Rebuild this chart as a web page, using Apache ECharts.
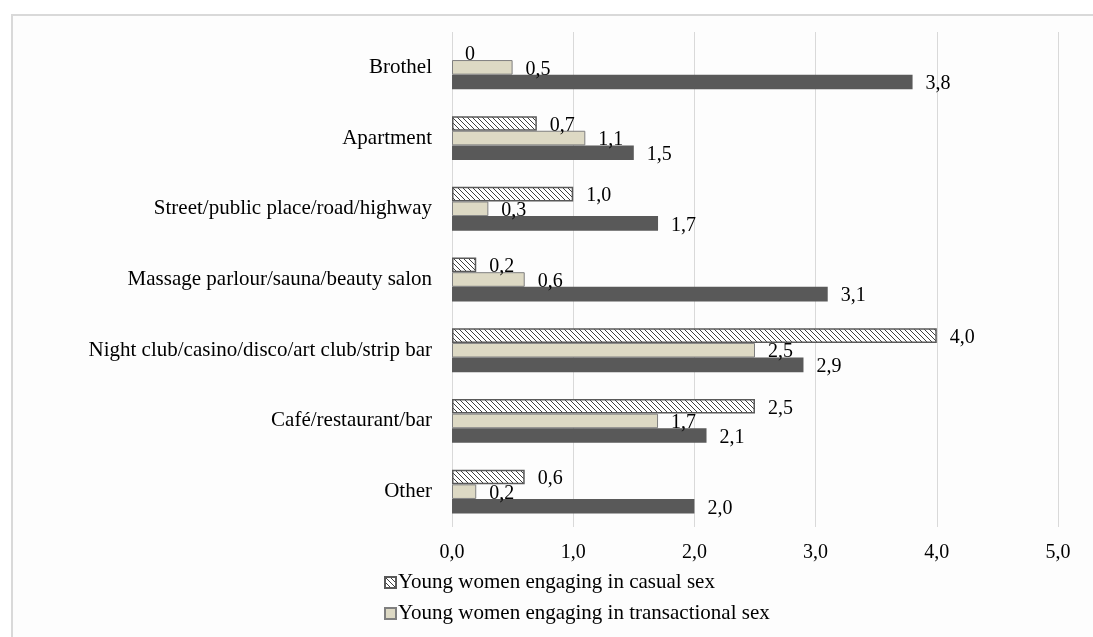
<!DOCTYPE html>
<html>
<head>
<meta charset="utf-8">
<script src="https://cdn.jsdelivr.net/npm/echarts@6/dist/echarts.min.js"></script>
<style>
  html, body { margin: 0; padding: 0; background: #ffffff; }
  #main { width: 1093px; height: 637px; }
</style>
</head>
<body>
<div id="main"></div>
<script>
// places, top to bottom
var places = ['Brothel', 'Apartment', 'Street/public place/road/highway',
  'Massage parlour/sauna/beauty salon', 'Night club/casino/disco/art club/strip bar',
  'Café/restaurant/bar', 'Other'];
var casualSex = [0, 0.7, 1.0, 0.2, 4.0, 2.5, 0.6];
var transactionalSex = [0.5, 1.1, 0.3, 0.6, 2.5, 1.7, 0.2];
var thirdGroup = [3.8, 1.5, 1.7, 3.1, 2.9, 2.1, 2.0];
var xTicks = [0, 1, 2, 3, 4, 5];

var font = "'Liberation Serif', 'Times New Roman', serif";

function comma(v) {
  if (v === 0) return '0';
  return v.toFixed(1).replace('.', ',');
}

// hatch pattern for the casual sex bars
function makeHatch() {
  var c = document.createElement('canvas');
  c.width = 5; c.height = 5;
  var ctx = c.getContext('2d');
  ctx.fillStyle = '#ffffff';
  ctx.fillRect(0, 0, 5, 5);
  ctx.strokeStyle = '#404040';
  ctx.lineWidth = 1;
  ctx.beginPath();
  ctx.moveTo(-1, -1); ctx.lineTo(6, 6);
  ctx.moveTo(-1, 4); ctx.lineTo(1, 6);
  ctx.moveTo(4, -1); ctx.lineTo(6, 1);
  ctx.stroke();
  return c;
}

// zero-length bars get no outline
function items(arr) {
  return arr.map(function (v) {
    return v === 0 ? { value: v, itemStyle: { borderWidth: 0 } } : v;
  });
}

var chart = echarts.init(document.getElementById('main'));

var lbl = {
  show: true,
  position: 'right',
  distance: 13,
  offset: [0, 2],
  color: '#000',
  fontFamily: font,
  fontSize: 20,
  formatter: function (p) { return comma(p.value); }
};

chart.setOption({
  backgroundColor: '#ffffff',
  animation: false,
  graphic: [{
    type: 'rect',
    shape: { x: 12, y: 15, width: 1200, height: 700 },
    style: { fill: '#fdfdfd', stroke: '#d9d9d9', lineWidth: 2 },
    z: -10
  }],
  grid: { left: 452, right: 35, top: 32, bottom: 110, containLabel: false },
  legend: {
    orient: 'vertical',
    left: 379,
    top: 567,
    icon: 'rect',
    itemWidth: 11,
    itemHeight: 11,
    itemGap: 10,
    data: ['Young women engaging in casual sex', 'Young women engaging in transactional sex'],
    textStyle: { fontFamily: font, fontSize: 21, color: '#000', padding: [0, 0, 0, -3] }
  },
  xAxis: {
    type: 'value',
    min: 0,
    max: 5,
    interval: 1,
    axisLine: { show: false },
    axisTick: { show: false },
    splitLine: { lineStyle: { color: '#d9d9d9', width: 1 } },
    axisLabel: {
      margin: 16,
      fontFamily: font,
      fontSize: 20,
      color: '#000',
      formatter: function (v) { return v.toFixed(1).replace('.', ','); }
    }
  },
  yAxis: {
    type: 'category',
    data: places,
    inverse: true,
    axisLine: { show: false },
    axisTick: { show: false },
    axisLabel: { margin: 20, fontFamily: font, fontSize: 21, color: '#000' }
  },
  series: [{
    name: 'Young women engaging in casual sex',
    type: 'bar',
    data: items(casualSex),
    barGap: 0,
    barCategoryGap: '38%',
    itemStyle: { color: { image: makeHatch(), repeat: 'repeat' }, borderColor: '#595959', borderWidth: 1.5 },
    label: lbl
  }, {
    name: 'Young women engaging in transactional sex',
    type: 'bar',
    data: items(transactionalSex),
    barGap: 0,
    barCategoryGap: '38%',
    itemStyle: { color: '#ddd9c4', borderColor: '#7f7f7f', borderWidth: 1 },
    label: lbl
  }, {
    name: 'Third group',
    type: 'bar',
    data: thirdGroup,
    barGap: 0,
    barCategoryGap: '38%',
    itemStyle: { color: '#595959' },
    label: lbl
  }]
});
</script>
</body>
</html>
